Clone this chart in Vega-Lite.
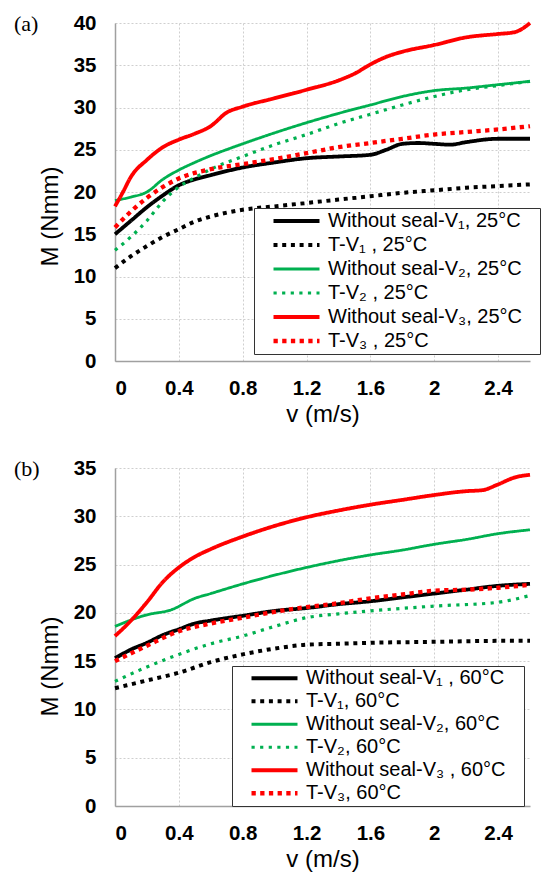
{
  "$schema": "https://vega.github.io/schema/vega-lite/v6.json",
  "background": "white",
  "padding": {"left": 14, "top": 13, "right": 2, "bottom": 2},
  "datasets": {
    "d": [
      {"p":"a","s":"Without seal-V₁, 25°C","v":0,"M":15.0},{"p":"a","s":"Without seal-V₁, 25°C","v":0.1,"M":16.6},{"p":"a","s":"Without seal-V₁, 25°C","v":0.2,"M":18.2},{"p":"a","s":"Without seal-V₁, 25°C","v":0.3,"M":19.6},{"p":"a","s":"Without seal-V₁, 25°C","v":0.4,"M":20.8},{"p":"a","s":"Without seal-V₁, 25°C","v":0.5,"M":21.5},{"p":"a","s":"Without seal-V₁, 25°C","v":0.6,"M":22.0},{"p":"a","s":"Without seal-V₁, 25°C","v":0.8,"M":22.9},{"p":"a","s":"Without seal-V₁, 25°C","v":1.0,"M":23.5},{"p":"a","s":"Without seal-V₁, 25°C","v":1.2,"M":24.0},{"p":"a","s":"Without seal-V₁, 25°C","v":1.4,"M":24.2},{"p":"a","s":"Without seal-V₁, 25°C","v":1.6,"M":24.4},{"p":"a","s":"Without seal-V₁, 25°C","v":1.7,"M":25.0},{"p":"a","s":"Without seal-V₁, 25°C","v":1.8,"M":25.7},{"p":"a","s":"Without seal-V₁, 25°C","v":1.9,"M":25.8},{"p":"a","s":"Without seal-V₁, 25°C","v":2.0,"M":25.7},{"p":"a","s":"Without seal-V₁, 25°C","v":2.1,"M":25.6},{"p":"a","s":"Without seal-V₁, 25°C","v":2.2,"M":25.9},{"p":"a","s":"Without seal-V₁, 25°C","v":2.4,"M":26.3},{"p":"a","s":"Without seal-V₁, 25°C","v":2.6,"M":26.3},
      {"p":"a","s":"T-V₁ , 25°C","v":0,"M":11.0},{"p":"a","s":"T-V₁ , 25°C","v":0.1,"M":12.4},{"p":"a","s":"T-V₁ , 25°C","v":0.2,"M":13.6},{"p":"a","s":"T-V₁ , 25°C","v":0.3,"M":14.7},{"p":"a","s":"T-V₁ , 25°C","v":0.4,"M":15.6},{"p":"a","s":"T-V₁ , 25°C","v":0.5,"M":16.5},{"p":"a","s":"T-V₁ , 25°C","v":0.6,"M":17.1},{"p":"a","s":"T-V₁ , 25°C","v":0.8,"M":17.9},{"p":"a","s":"T-V₁ , 25°C","v":1.0,"M":18.3},{"p":"a","s":"T-V₁ , 25°C","v":1.2,"M":18.7},{"p":"a","s":"T-V₁ , 25°C","v":1.4,"M":19.1},{"p":"a","s":"T-V₁ , 25°C","v":1.6,"M":19.5},{"p":"a","s":"T-V₁ , 25°C","v":1.8,"M":19.9},{"p":"a","s":"T-V₁ , 25°C","v":2.0,"M":20.2},{"p":"a","s":"T-V₁ , 25°C","v":2.2,"M":20.5},{"p":"a","s":"T-V₁ , 25°C","v":2.4,"M":20.7},{"p":"a","s":"T-V₁ , 25°C","v":2.6,"M":20.9},
      {"p":"a","s":"Without seal-V₂, 25°C","v":0,"M":19.0},{"p":"a","s":"Without seal-V₂, 25°C","v":0.1,"M":19.4},{"p":"a","s":"Without seal-V₂, 25°C","v":0.2,"M":20.0},{"p":"a","s":"Without seal-V₂, 25°C","v":0.3,"M":21.5},{"p":"a","s":"Without seal-V₂, 25°C","v":0.4,"M":22.6},{"p":"a","s":"Without seal-V₂, 25°C","v":0.5,"M":23.5},{"p":"a","s":"Without seal-V₂, 25°C","v":0.6,"M":24.3},{"p":"a","s":"Without seal-V₂, 25°C","v":0.8,"M":25.7},{"p":"a","s":"Without seal-V₂, 25°C","v":1.0,"M":27.0},{"p":"a","s":"Without seal-V₂, 25°C","v":1.2,"M":28.2},{"p":"a","s":"Without seal-V₂, 25°C","v":1.4,"M":29.3},{"p":"a","s":"Without seal-V₂, 25°C","v":1.6,"M":30.3},{"p":"a","s":"Without seal-V₂, 25°C","v":1.8,"M":31.3},{"p":"a","s":"Without seal-V₂, 25°C","v":2.0,"M":32.0},{"p":"a","s":"Without seal-V₂, 25°C","v":2.2,"M":32.3},{"p":"a","s":"Without seal-V₂, 25°C","v":2.4,"M":32.7},{"p":"a","s":"Without seal-V₂, 25°C","v":2.6,"M":33.1},
      {"p":"a","s":"T-V₂ , 25°C","v":0,"M":13.1},{"p":"a","s":"T-V₂ , 25°C","v":0.1,"M":14.7},{"p":"a","s":"T-V₂ , 25°C","v":0.2,"M":16.6},{"p":"a","s":"T-V₂ , 25°C","v":0.3,"M":18.9},{"p":"a","s":"T-V₂ , 25°C","v":0.4,"M":20.6},{"p":"a","s":"T-V₂ , 25°C","v":0.5,"M":21.7},{"p":"a","s":"T-V₂ , 25°C","v":0.6,"M":22.7},{"p":"a","s":"T-V₂ , 25°C","v":0.8,"M":24.2},{"p":"a","s":"T-V₂ , 25°C","v":1.0,"M":25.6},{"p":"a","s":"T-V₂ , 25°C","v":1.2,"M":26.8},{"p":"a","s":"T-V₂ , 25°C","v":1.4,"M":28.1},{"p":"a","s":"T-V₂ , 25°C","v":1.6,"M":29.2},{"p":"a","s":"T-V₂ , 25°C","v":1.8,"M":30.3},{"p":"a","s":"T-V₂ , 25°C","v":2.0,"M":31.3},{"p":"a","s":"T-V₂ , 25°C","v":2.2,"M":32.1},{"p":"a","s":"T-V₂ , 25°C","v":2.4,"M":32.6},{"p":"a","s":"T-V₂ , 25°C","v":2.6,"M":33.1},
      {"p":"a","s":"Without seal-V₃, 25°C","v":0,"M":18.3},{"p":"a","s":"Without seal-V₃, 25°C","v":0.05,"M":20.0},{"p":"a","s":"Without seal-V₃, 25°C","v":0.1,"M":21.8},{"p":"a","s":"Without seal-V₃, 25°C","v":0.2,"M":23.8},{"p":"a","s":"Without seal-V₃, 25°C","v":0.3,"M":25.3},{"p":"a","s":"Without seal-V₃, 25°C","v":0.4,"M":26.2},{"p":"a","s":"Without seal-V₃, 25°C","v":0.5,"M":26.9},{"p":"a","s":"Without seal-V₃, 25°C","v":0.6,"M":27.8},{"p":"a","s":"Without seal-V₃, 25°C","v":0.7,"M":29.4},{"p":"a","s":"Without seal-V₃, 25°C","v":0.8,"M":30.1},{"p":"a","s":"Without seal-V₃, 25°C","v":1.0,"M":31.1},{"p":"a","s":"Without seal-V₃, 25°C","v":1.2,"M":32.1},{"p":"a","s":"Without seal-V₃, 25°C","v":1.4,"M":33.2},{"p":"a","s":"Without seal-V₃, 25°C","v":1.5,"M":34.0},{"p":"a","s":"Without seal-V₃, 25°C","v":1.6,"M":35.1},{"p":"a","s":"Without seal-V₃, 25°C","v":1.7,"M":36.0},{"p":"a","s":"Without seal-V₃, 25°C","v":1.8,"M":36.6},{"p":"a","s":"Without seal-V₃, 25°C","v":2.0,"M":37.4},{"p":"a","s":"Without seal-V₃, 25°C","v":2.2,"M":38.3},{"p":"a","s":"Without seal-V₃, 25°C","v":2.4,"M":38.7},{"p":"a","s":"Without seal-V₃, 25°C","v":2.5,"M":38.9},{"p":"a","s":"Without seal-V₃, 25°C","v":2.55,"M":39.3},{"p":"a","s":"Without seal-V₃, 25°C","v":2.6,"M":40.0},
      {"p":"a","s":"T-V₃ , 25°C","v":0,"M":15.8},{"p":"a","s":"T-V₃ , 25°C","v":0.1,"M":17.7},{"p":"a","s":"T-V₃ , 25°C","v":0.2,"M":19.3},{"p":"a","s":"T-V₃ , 25°C","v":0.3,"M":20.6},{"p":"a","s":"T-V₃ , 25°C","v":0.4,"M":21.6},{"p":"a","s":"T-V₃ , 25°C","v":0.6,"M":22.7},{"p":"a","s":"T-V₃ , 25°C","v":0.8,"M":23.3},{"p":"a","s":"T-V₃ , 25°C","v":1.0,"M":23.9},{"p":"a","s":"T-V₃ , 25°C","v":1.2,"M":24.6},{"p":"a","s":"T-V₃ , 25°C","v":1.4,"M":25.3},{"p":"a","s":"T-V₃ , 25°C","v":1.6,"M":25.8},{"p":"a","s":"T-V₃ , 25°C","v":1.8,"M":26.3},{"p":"a","s":"T-V₃ , 25°C","v":2.0,"M":26.8},{"p":"a","s":"T-V₃ , 25°C","v":2.2,"M":27.1},{"p":"a","s":"T-V₃ , 25°C","v":2.4,"M":27.4},{"p":"a","s":"T-V₃ , 25°C","v":2.6,"M":27.8},

      {"p":"b","s":"Without seal-V₁ , 60°C","v":0,"M":15.3},{"p":"b","s":"Without seal-V₁ , 60°C","v":0.1,"M":16.2},{"p":"b","s":"Without seal-V₁ , 60°C","v":0.2,"M":16.9},{"p":"b","s":"Without seal-V₁ , 60°C","v":0.3,"M":17.7},{"p":"b","s":"Without seal-V₁ , 60°C","v":0.4,"M":18.3},{"p":"b","s":"Without seal-V₁ , 60°C","v":0.5,"M":18.9},{"p":"b","s":"Without seal-V₁ , 60°C","v":0.6,"M":19.2},{"p":"b","s":"Without seal-V₁ , 60°C","v":0.8,"M":19.7},{"p":"b","s":"Without seal-V₁ , 60°C","v":1.0,"M":20.2},{"p":"b","s":"Without seal-V₁ , 60°C","v":1.2,"M":20.5},{"p":"b","s":"Without seal-V₁ , 60°C","v":1.4,"M":20.9},{"p":"b","s":"Without seal-V₁ , 60°C","v":1.6,"M":21.2},{"p":"b","s":"Without seal-V₁ , 60°C","v":1.8,"M":21.6},{"p":"b","s":"Without seal-V₁ , 60°C","v":2.0,"M":22.0},{"p":"b","s":"Without seal-V₁ , 60°C","v":2.2,"M":22.4},{"p":"b","s":"Without seal-V₁ , 60°C","v":2.4,"M":22.8},{"p":"b","s":"Without seal-V₁ , 60°C","v":2.6,"M":23.0},
      {"p":"b","s":"T-V₁, 60°C","v":0,"M":12.2},{"p":"b","s":"T-V₁, 60°C","v":0.2,"M":13.0},{"p":"b","s":"T-V₁, 60°C","v":0.4,"M":13.8},{"p":"b","s":"T-V₁, 60°C","v":0.6,"M":14.9},{"p":"b","s":"T-V₁, 60°C","v":0.8,"M":15.7},{"p":"b","s":"T-V₁, 60°C","v":1.0,"M":16.3},{"p":"b","s":"T-V₁, 60°C","v":1.2,"M":16.7},{"p":"b","s":"T-V₁, 60°C","v":1.4,"M":16.8},{"p":"b","s":"T-V₁, 60°C","v":1.6,"M":16.9},{"p":"b","s":"T-V₁, 60°C","v":2.0,"M":17.0},{"p":"b","s":"T-V₁, 60°C","v":2.4,"M":17.1},{"p":"b","s":"T-V₁, 60°C","v":2.6,"M":17.1},
      {"p":"b","s":"Without seal-V₂, 60°C","v":0,"M":18.6},{"p":"b","s":"Without seal-V₂, 60°C","v":0.2,"M":19.8},{"p":"b","s":"Without seal-V₂, 60°C","v":0.35,"M":20.3},{"p":"b","s":"Without seal-V₂, 60°C","v":0.5,"M":21.5},{"p":"b","s":"Without seal-V₂, 60°C","v":0.6,"M":22.0},{"p":"b","s":"Without seal-V₂, 60°C","v":0.8,"M":23.0},{"p":"b","s":"Without seal-V₂, 60°C","v":1.0,"M":23.9},{"p":"b","s":"Without seal-V₂, 60°C","v":1.2,"M":24.7},{"p":"b","s":"Without seal-V₂, 60°C","v":1.4,"M":25.4},{"p":"b","s":"Without seal-V₂, 60°C","v":1.6,"M":26.0},{"p":"b","s":"Without seal-V₂, 60°C","v":1.8,"M":26.5},{"p":"b","s":"Without seal-V₂, 60°C","v":2.0,"M":27.1},{"p":"b","s":"Without seal-V₂, 60°C","v":2.2,"M":27.6},{"p":"b","s":"Without seal-V₂, 60°C","v":2.4,"M":28.2},{"p":"b","s":"Without seal-V₂, 60°C","v":2.6,"M":28.6},
      {"p":"b","s":"T-V₂, 60°C","v":0,"M":12.9},{"p":"b","s":"T-V₂, 60°C","v":0.2,"M":14.4},{"p":"b","s":"T-V₂, 60°C","v":0.4,"M":15.7},{"p":"b","s":"T-V₂, 60°C","v":0.6,"M":16.8},{"p":"b","s":"T-V₂, 60°C","v":0.8,"M":17.6},{"p":"b","s":"T-V₂, 60°C","v":1.0,"M":18.6},{"p":"b","s":"T-V₂, 60°C","v":1.2,"M":19.5},{"p":"b","s":"T-V₂, 60°C","v":1.4,"M":19.9},{"p":"b","s":"T-V₂, 60°C","v":1.6,"M":20.2},{"p":"b","s":"T-V₂, 60°C","v":2.0,"M":20.7},{"p":"b","s":"T-V₂, 60°C","v":2.4,"M":21.1},{"p":"b","s":"T-V₂, 60°C","v":2.6,"M":21.8},
      {"p":"b","s":"Without seal-V₃ , 60°C","v":0,"M":17.6},{"p":"b","s":"Without seal-V₃ , 60°C","v":0.1,"M":19.2},{"p":"b","s":"Without seal-V₃ , 60°C","v":0.2,"M":21.1},{"p":"b","s":"Without seal-V₃ , 60°C","v":0.3,"M":23.2},{"p":"b","s":"Without seal-V₃ , 60°C","v":0.4,"M":24.7},{"p":"b","s":"Without seal-V₃ , 60°C","v":0.5,"M":25.8},{"p":"b","s":"Without seal-V₃ , 60°C","v":0.6,"M":26.6},{"p":"b","s":"Without seal-V₃ , 60°C","v":0.8,"M":27.9},{"p":"b","s":"Without seal-V₃ , 60°C","v":1.0,"M":29.0},{"p":"b","s":"Without seal-V₃ , 60°C","v":1.2,"M":29.9},{"p":"b","s":"Without seal-V₃ , 60°C","v":1.4,"M":30.6},{"p":"b","s":"Without seal-V₃ , 60°C","v":1.6,"M":31.2},{"p":"b","s":"Without seal-V₃ , 60°C","v":1.8,"M":31.7},{"p":"b","s":"Without seal-V₃ , 60°C","v":2.0,"M":32.2},{"p":"b","s":"Without seal-V₃ , 60°C","v":2.2,"M":32.6},{"p":"b","s":"Without seal-V₃ , 60°C","v":2.3,"M":32.7},{"p":"b","s":"Without seal-V₃ , 60°C","v":2.4,"M":33.3},{"p":"b","s":"Without seal-V₃ , 60°C","v":2.5,"M":34.0},{"p":"b","s":"Without seal-V₃ , 60°C","v":2.6,"M":34.3},
      {"p":"b","s":"T-V₃, 60°C","v":0,"M":15.0},{"p":"b","s":"T-V₃, 60°C","v":0.2,"M":16.6},{"p":"b","s":"T-V₃, 60°C","v":0.4,"M":18.1},{"p":"b","s":"T-V₃, 60°C","v":0.6,"M":18.9},{"p":"b","s":"T-V₃, 60°C","v":0.8,"M":19.5},{"p":"b","s":"T-V₃, 60°C","v":1.0,"M":20.1},{"p":"b","s":"T-V₃, 60°C","v":1.2,"M":20.6},{"p":"b","s":"T-V₃, 60°C","v":1.4,"M":21.0},{"p":"b","s":"T-V₃, 60°C","v":1.6,"M":21.5},{"p":"b","s":"T-V₃, 60°C","v":1.8,"M":21.9},{"p":"b","s":"T-V₃, 60°C","v":2.0,"M":22.3},{"p":"b","s":"T-V₃, 60°C","v":2.2,"M":22.4},{"p":"b","s":"T-V₃, 60°C","v":2.4,"M":22.6},{"p":"b","s":"T-V₃, 60°C","v":2.6,"M":22.9}
    ]
  },
  "config": {
    "view": {"stroke": null},
    "font": "Liberation Sans",
    "axis": {
      "labelFont": "Liberation Sans", "labelFontSize": 20.5, "labelFontWeight": "bold", "labelColor": "#000",
      "titleFont": "Liberation Sans", "titleFontSize": 24, "titleFontWeight": "normal", "titleColor": "#000",
      "ticks": false, "domainColor": "#a0a0a0", "domainWidth": 1.5,
      "gridColor": "#cfcfcf", "gridDash": [2, 2], "gridWidth": 1
    },
    "line": {"strokeCap": "butt", "strokeJoin": "round", "interpolate": "monotone"},
    "legend": {
      "orient": "none", "symbolType": "stroke", "symbolSize": 2116,
      "labelFont": "Liberation Sans", "labelFontSize": 20, "labelColor": "#000", "labelLimit": 400,
      "labelOffset": 6, "strokeColor": "#333", "fillColor": "white", "padding": 1,
      "rowPadding": 0, "clipHeight": 24, "symbolOffset": 16,
      "titleOrient": "right", "titlePadding": 17, "titleFontSize": 6, "titleColor": "#ffffff"
    },
    "title": {"font": "Liberation Serif", "fontSize": 22, "fontWeight": "normal", "color": "#000", "anchor": "start", "frame": "bounds"}
  },
  "spacing": 31,
  "resolve": {"scale": {"color": "independent", "strokeDash": "independent", "strokeWidth": "independent", "y": "independent"}},
  "vconcat": [
    {
      "width": 415, "height": 338,
      "title": {"text": "(a)", "dx": -24, "dy": 27},
      "data": {"name": "d"},
      "transform": [{"filter": "datum.p == 'a'"}],
      "mark": {"type": "line"},
      "encoding": {
        "x": {"field": "v", "type": "quantitative", "scale": {"domain": [0, 2.6], "nice": false},
              "axis": {"values": [0, 0.4, 0.8, 1.2, 1.6, 2, 2.4], "format": "~g", "title": "v (m/s)", "labelPadding": 17, "titlePadding": 4}},
        "y": {"field": "M", "type": "quantitative", "scale": {"domain": [0, 40], "nice": false},
              "axis": {"values": [0, 5, 10, 15, 20, 25, 30, 35, 40], "title": "M (Nmm)", "labelPadding": 19, "titleX": -53, "titleY": 193}},
        "color": {"field": "s", "type": "nominal",
                  "scale": {"domain": ["Without seal-V₁, 25°C", "T-V₁ , 25°C", "Without seal-V₂, 25°C", "T-V₂ , 25°C", "Without seal-V₃, 25°C", "T-V₃ , 25°C"],
                            "range": ["#000000", "#000000", "#00b050", "#00b050", "#ff0000", "#ff0000"]},
                  "legend": {"legendX": 139, "legendY": 185, "title": "\u00a0"}},
        "strokeDash": {"field": "s", "type": "nominal",
                  "scale": {"domain": ["Without seal-V₁, 25°C", "T-V₁ , 25°C", "Without seal-V₂, 25°C", "T-V₂ , 25°C", "Without seal-V₃, 25°C", "T-V₃ , 25°C"],
                            "range": [[1, 0], [4, 4.7], [1, 0], [3.2, 5.4], [1, 0], [4.3, 4.4]]},
                  "legend": {"legendX": 139, "legendY": 185, "title": "\u00a0"}},
        "strokeWidth": {"field": "s", "type": "nominal",
                  "scale": {"type": "ordinal", "domain": ["Without seal-V₁, 25°C", "T-V₁ , 25°C", "Without seal-V₂, 25°C", "T-V₂ , 25°C", "Without seal-V₃, 25°C", "T-V₃ , 25°C"],
                            "range": [3.8, 4, 2.8, 3.2, 3.8, 4.3]},
                  "legend": {"legendX": 139, "legendY": 185, "title": "\u00a0"}}
      }
    },
    {
      "width": 415, "height": 338,
      "title": {"text": "(b)", "dx": -24, "dy": 27},
      "data": {"name": "d"},
      "transform": [{"filter": "datum.p == 'b'"}],
      "mark": {"type": "line"},
      "encoding": {
        "x": {"field": "v", "type": "quantitative", "scale": {"domain": [0, 2.6], "nice": false},
              "axis": {"values": [0, 0.4, 0.8, 1.2, 1.6, 2, 2.4], "format": "~g", "title": "v (m/s)", "labelPadding": 17, "titlePadding": 4}},
        "y": {"field": "M", "type": "quantitative", "scale": {"domain": [0, 35], "nice": false},
              "axis": {"values": [0, 5, 10, 15, 20, 25, 30, 35], "title": "M (Nmm)", "labelPadding": 19, "titleX": -53, "titleY": 198}},
        "color": {"field": "s", "type": "nominal",
                  "scale": {"domain": ["Without seal-V₁ , 60°C", "T-V₁, 60°C", "Without seal-V₂, 60°C", "T-V₂, 60°C", "Without seal-V₃ , 60°C", "T-V₃, 60°C"],
                            "range": ["#000000", "#000000", "#00b050", "#00b050", "#ff0000", "#ff0000"]},
                  "legend": {"legendX": 117, "legendY": 198, "clipHeight": 22.5, "title": "\u00a0"}},
        "strokeDash": {"field": "s", "type": "nominal",
                  "scale": {"domain": ["Without seal-V₁ , 60°C", "T-V₁, 60°C", "Without seal-V₂, 60°C", "T-V₂, 60°C", "Without seal-V₃ , 60°C", "T-V₃, 60°C"],
                            "range": [[1, 0], [4, 4.7], [1, 0], [3.2, 5.4], [1, 0], [4.3, 4.4]]},
                  "legend": {"legendX": 117, "legendY": 198, "clipHeight": 22.5, "title": "\u00a0"}},
        "strokeWidth": {"field": "s", "type": "nominal",
                  "scale": {"type": "ordinal", "domain": ["Without seal-V₁ , 60°C", "T-V₁, 60°C", "Without seal-V₂, 60°C", "T-V₂, 60°C", "Without seal-V₃ , 60°C", "T-V₃, 60°C"],
                            "range": [3.8, 4, 2.8, 3.2, 3.8, 4.3]},
                  "legend": {"legendX": 117, "legendY": 198, "clipHeight": 22.5, "title": "\u00a0"}}
      }
    }
  ]
}
